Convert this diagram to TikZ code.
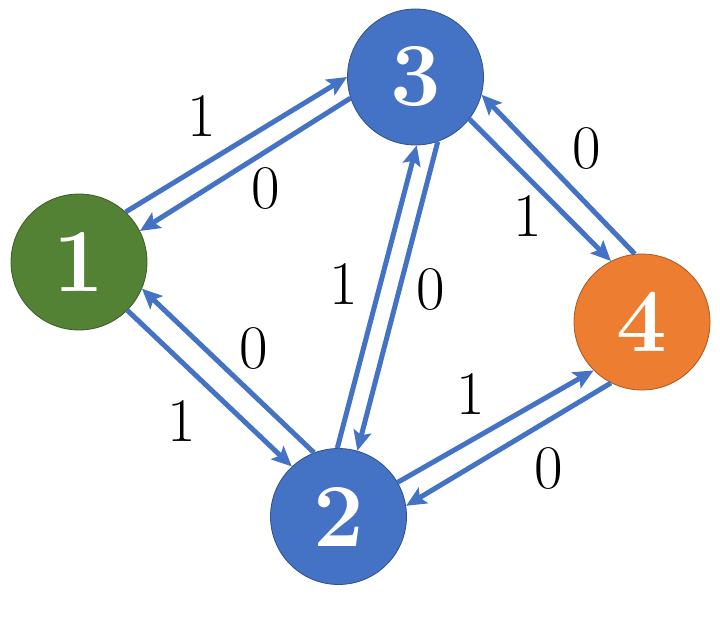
\documentclass[tikz,border=0pt]{standalone}
\usepackage{xcolor}
\usetikzlibrary{arrows.meta}
\definecolor{nodegreen}{HTML}{548235}
\definecolor{nodeblue}{HTML}{4472C4}
\definecolor{nodeorange}{HTML}{ED7D31}
\definecolor{edgeblue}{HTML}{4472C4}

\begin{document}
\begin{tikzpicture}[x=1pt,y=-1pt,
    state/.style={circle, minimum size=136pt, inner sep=0pt, fill=#1, draw=#1!70!black,
        line width=0.8pt, text=white, font=\fontsize{90}{90}\selectfont\bfseries},
    link/.style={edgeblue, line width=5pt, -{Stealth[length=20pt,width=18pt,inset=4pt]}},
    lbl/.style={font=\fontsize{62}{62}\selectfont, inner sep=0pt}]
    \useasboundingbox (0,0) rectangle (720,619);

    % states
    \node[state=nodegreen] (s1) at (79,262) {1};
    \node[state=nodeblue] (s2) at (338.5,516.5) {2};
    \node[state=nodeblue] (s3) at (415.5,77) {3};
    \node[state=nodeorange] (s4) at (642,322) {4};

    % 1 <-> 3
    \draw[link] (s1.47) -- (s3.180);
    \draw[link] (s3.198) -- (s1.27);
    \node[lbl] (l13) at (202,116) {1};
    \node[lbl] (l31) at (266,188) {0};

    % 1 <-> 2
    \draw[link] (s1.-45) -- (s2.133);
    \draw[link] (s2.111) -- (s1.-23);
    \node[lbl] (l12) at (182,421) {1};
    \node[lbl] (l21) at (254,348) {0};

    % 2 <-> 3
    \draw[link] (s2.91.5) -- (s3.-89.6);
    \draw[link] (s3.-71.5) -- (s2.74);
    \node[lbl] (l23) at (344,284) {1};
    \node[lbl] (l32) at (431,289) {0};

    % 3 <-> 4
    \draw[link] (s3.-38) -- (s4.117);
    \draw[link] (s4.96) -- (s3.-15);
    \node[lbl] (l34) at (528,216) {1};
    \node[lbl] (l43) at (587,148) {0};

    % 2 <-> 4
    \draw[link] (s2.30.5) -- (s4.225.5);
    \draw[link] (s4.243) -- (s2.9.5);
    \node[lbl] (l24) at (471,394) {1};
    \node[lbl] (l42) at (549,468) {0};
\end{tikzpicture}
\end{document}
